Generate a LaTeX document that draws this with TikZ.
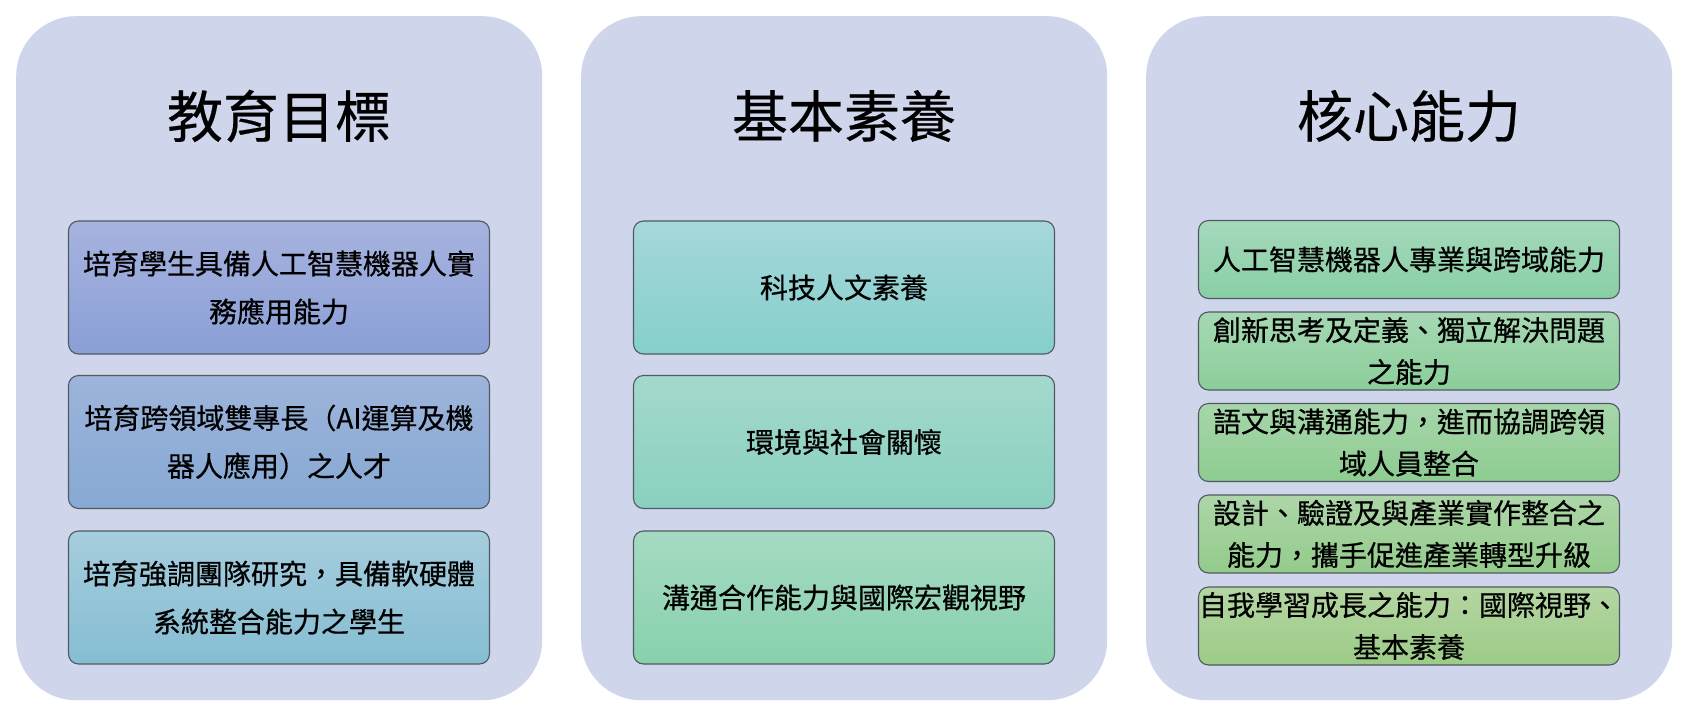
\documentclass[tikz,border=0pt]{standalone}
\usepackage{fontspec}
\newfontfamily\cjk[FakeBold=0.6]{Noto Sans CJK TC}
\newfontfamily\cjkt[FakeBold=0.4]{Noto Sans CJK TC}
\definecolor{panelc}{HTML}{CFD5EA}
\definecolor{boxline}{HTML}{505A60}
\definecolor{aT}{HTML}{A7B3DF}\definecolor{aB}{HTML}{8A9FD7}
\definecolor{bT}{HTML}{9DB4DB}\definecolor{bB}{HTML}{86A9D3}
\definecolor{cT}{HTML}{A5CDDD}\definecolor{cB}{HTML}{86BDD3}
\definecolor{dT}{HTML}{A6D7DB}\definecolor{dB}{HTML}{86CFCB}
\definecolor{eT}{HTML}{A4D9CD}\definecolor{eB}{HTML}{89D0BF}
\definecolor{fT}{HTML}{A5DAC2}\definecolor{fB}{HTML}{88D1AD}
\definecolor{gT}{HTML}{A5D9BC}\definecolor{gB}{HTML}{88CFA4}
\definecolor{hT}{HTML}{A6D8B3}\definecolor{hB}{HTML}{8BCE9A}
\definecolor{iT}{HTML}{A7D6AB}\definecolor{iB}{HTML}{8DCC90}
\definecolor{jT}{HTML}{ADD6A8}\definecolor{jB}{HTML}{93CB8B}
\definecolor{kT}{HTML}{B4D6A2}\definecolor{kB}{HTML}{9CCB87}
\begin{document}
\begin{tikzpicture}[x=1pt,y=-1pt,
  panel/.style={fill=panelc, draw=none, rounded corners=60pt, minimum width=526pt, minimum height=684pt, inner sep=0pt, anchor=north west},
  paneltitle/.style={font=\cjkt\fontsize{56}{62}\selectfont, text=black, inner sep=0pt},
  itembox/.style={draw=boxline, line width=1.1pt, rounded corners=10pt, minimum width=421pt, minimum height=133pt, inner sep=0pt, align=center, text=black, font=\cjk\fontsize{28}{48}\selectfont},
  smallbox/.style={itembox, minimum height=78pt, font=\cjk\fontsize{28}{42}\selectfont},
  grad/.style 2 args={top color=#1, bottom color=#2}
]
\useasboundingbox (0,0) rectangle (1690,718);
\fill[white] (0,0) rectangle (1690,718);
% panels
\node[panel] (p1) at (16,16) {};
\node[panel] (p2) at (581,16) {};
\node[panel] (p3) at (1146,16) {};
% titles
\node[paneltitle] (t1) at (279,116) {教育目標};
\node[paneltitle] (t2) at (844,116) {基本素養};
\node[paneltitle] (t3) at (1409,116) {核心能力};
% panel 1
\node[itembox, grad={aT}{aB}] (a1) at (279,287.5) {培育學生具備人工智慧機器人實\\務應用能力};
\node[itembox, grad={bT}{bB}] (a2) at (279,442) {培育跨領域雙專長（AI運算及機\\器人應用）之人才};
\node[itembox, grad={cT}{cB}] (a3) at (279,597.5) {培育強調團隊研究，具備軟硬體\\系統整合能力之學生};
% panel 2
\node[itembox, grad={dT}{dB}] (b1) at (844,287.5) {科技人文素養};
\node[itembox, grad={eT}{eB}] (b2) at (844,442) {環境與社會關懷};
\node[itembox, grad={fT}{fB}] (b3) at (844,597.5) {溝通合作能力與國際宏觀視野};
% panel 3
\node[smallbox, grad={gT}{gB}] (c1) at (1409,259.5) {人工智慧機器人專業與跨域能力};
\node[smallbox, grad={hT}{hB}] (c2) at (1409,351) {創新思考及定義、獨立解決問題\\之能力};
\node[smallbox, grad={iT}{iB}] (c3) at (1409,442.5) {語文與溝通能力，進而協調跨領\\域人員整合};
\node[smallbox, grad={jT}{jB}] (c4) at (1409,534) {設計、驗證及與產業實作整合之\\能力，攜手促進產業轉型升級};
\node[smallbox, grad={kT}{kB}] (c5) at (1409,626) {自我學習成長之能力：國際視野、\\基本素養};
\end{tikzpicture}
\end{document}
